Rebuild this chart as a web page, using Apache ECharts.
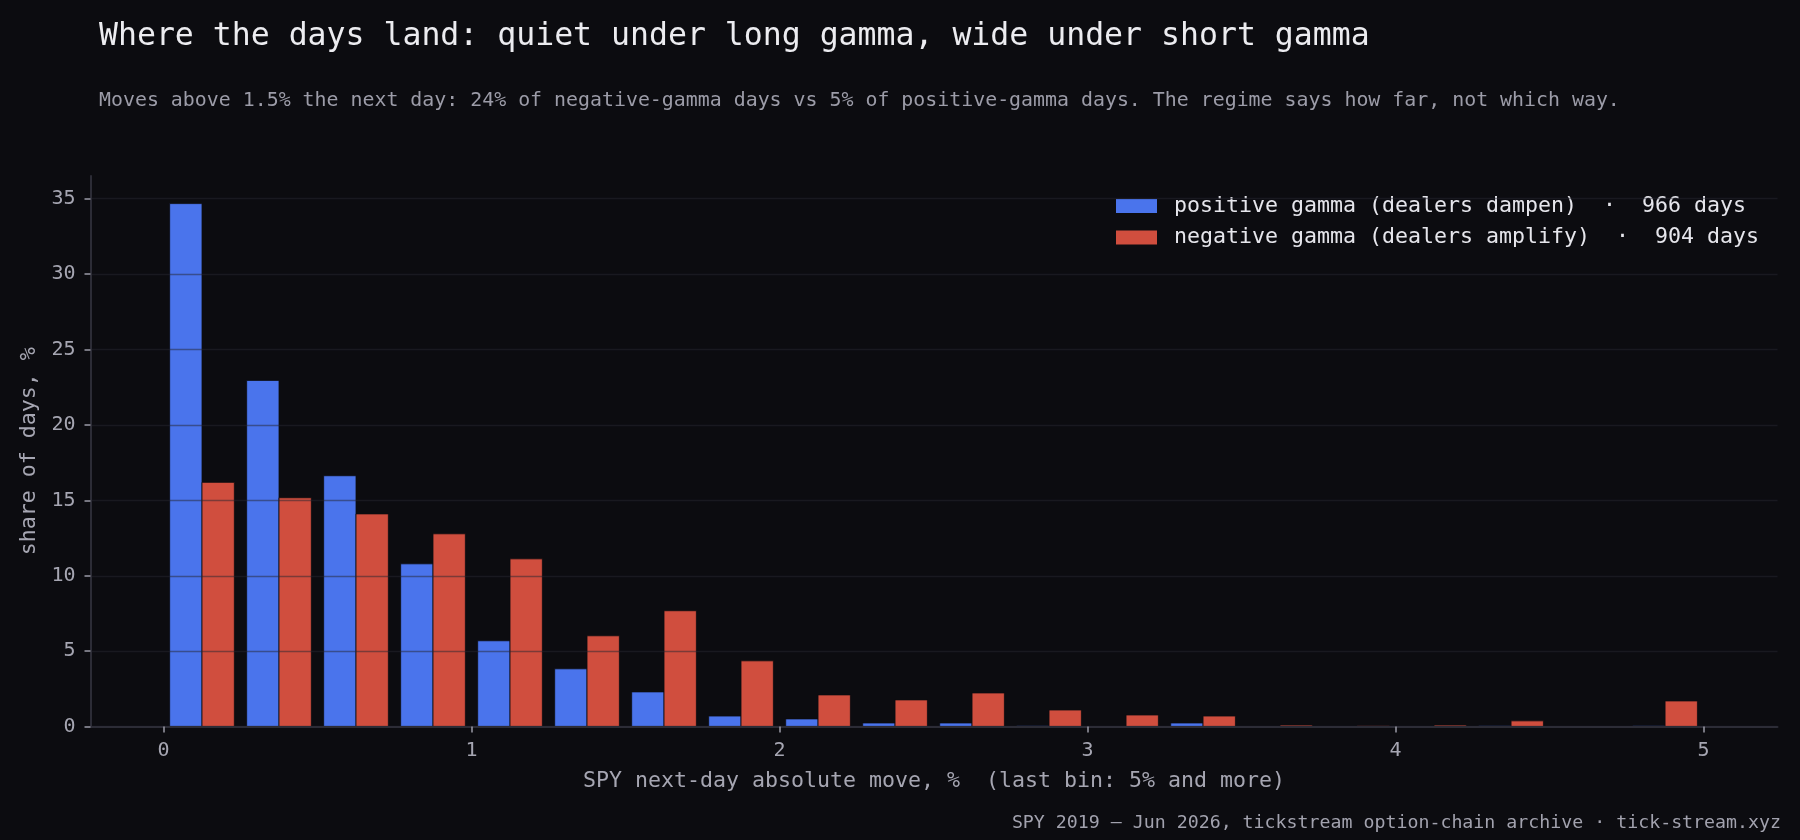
<!DOCTYPE html>
<html><head><meta charset="utf-8">
<script src="https://cdn.jsdelivr.net/npm/echarts@6/dist/echarts.min.js"></script>
<style>html,body{margin:0;padding:0;background:#0c0c10;}#c{width:1800px;height:840px;}</style>
</head><body><div id="c"></div>
<script>
// lower edge of each 0.25%-wide bin (last bin: 5% and more)
const binStarts = [0, 0.25, 0.5, 0.75, 1, 1.25, 1.5, 1.75, 2, 2.25, 2.5, 2.75, 3, 3.25, 3.5, 3.75, 4, 4.25, 4.5, 4.75];
// share of days, % (null = no bar drawn)
const positiveShare = [34.67, 22.95, 16.63, 10.79, 5.69, 3.83, 2.30, 0.70, 0.51, 0.24, 0.24, 0, null, 0.24, null, null, null, 0, null, 0];
const negativeShare = [16.19, 15.17, 14.10, 12.78, 11.12, 6.02, 7.68, 4.36, 2.10, 1.77, 2.23, 1.10, 0.77, 0.70, 0.10, 0, 0.10, 0.38, null, 1.70];
const xTickValues = [0, 1, 2, 3, 4, 5];
const yTickValues = [0, 5, 10, 15, 20, 25, 30, 35];
const seriesNames = ['positive gamma (dealers dampen)  \u00b7  966 days', 'negative gamma (dealers amplify)  \u00b7  904 days'];
const titleText = 'Where the days land: quiet under long gamma, wide under short gamma';
const subtitleText = 'Moves above 1.5% the next day: 24% of negative-gamma days vs 5% of positive-gamma days. The regime says how far, not which way.';
const xAxisTitle = 'SPY next-day absolute move, %  (last bin: 5% and more)';
const yAxisTitle = 'share of days, %';
const footerText = 'SPY 2019 \u2014 Jun 2026, tickstream option-chain archive \u00b7 tick-stream.xyz';

const FONT = '"DejaVu Sans Mono", monospace';
const BG = '#0c0c10';
const BLUE = '#4a74ec';
const RED = '#d04e3e';

function makeRender(offset, width, color) {
  return function (params, api) {
    const x0 = api.value(0) + offset;
    const v = api.value(1);
    const pTop = api.coord([x0, v]);
    const pBot = api.coord([x0 + width, 0]);
    if (v === 0) {
      return { type: 'rect', shape: { x: pTop[0], y: pBot[1] - 1, width: pBot[0] - pTop[0], height: 1 },
               style: { fill: color, opacity: 0.25 } };
    }
    return { type: 'rect', shape: { x: pTop[0], y: pTop[1], width: pBot[0] - pTop[0], height: pBot[1] - pTop[1] },
             style: { fill: color, stroke: BG, lineWidth: 0.8 } };
  };
}
function toData(arr) {
  return binStarts.map((b, i) => [b, arr[i]]).filter(d => d[1] !== null);
}

const chart = echarts.init(document.getElementById('c'), null, { renderer: 'canvas' });
chart.setOption({
  backgroundColor: BG,
  animation: false,
  textStyle: { fontFamily: FONT },
  grid: { left: 90.5, right: 22.5, top: 176, bottom: 113.4, containLabel: false },
  xAxis: {
    type: 'value', min: -0.237, max: 5.24, z: 5,
    name: xAxisTitle, nameLocation: 'middle', nameGap: 44,
    nameTextStyle: { color: '#a6a6b2', fontSize: 21.6, fontFamily: FONT },
    axisLine: { show: true, onZero: false, lineStyle: { color: '#2c2c36', width: 2 } },
    axisTick: { show: true, customValues: xTickValues, length: 6, lineStyle: { color: '#9a9aa6', width: 1.5 } },
    axisLabel: { customValues: xTickValues, color: '#a6a6b2', fontSize: 20, margin: 14, fontFamily: FONT },
    splitLine: { show: false }
  },
  yAxis: {
    type: 'value', min: 0, max: 36.5, interval: 5, z: 5,
    name: yAxisTitle, nameLocation: 'middle', nameGap: 50, nameRotate: 90,
    nameTextStyle: { color: '#a6a6b2', fontSize: 21.6, fontFamily: FONT },
    axisLine: { show: true, onZero: false, lineStyle: { color: '#2c2c36', width: 2 } },
    axisTick: { show: true, customValues: yTickValues, length: 6, lineStyle: { color: '#9a9aa6', width: 1.5 } },
    axisLabel: { customValues: yTickValues, color: '#a6a6b2', fontSize: 20, margin: 15, fontFamily: FONT },
    splitLine: { show: true, lineStyle: { color: 'rgba(38,38,48,0.5)', width: 1.3 } }
  },
  legend: {
    orient: 'vertical', left: 1116, top: 194, itemWidth: 41, itemHeight: 14, itemGap: 7.5,
    icon: 'rect', padding: 0,
    textStyle: { color: '#e6e6ec', fontSize: 21.6, lineHeight: 24, fontFamily: FONT, padding: [0, 0, 0, 12] },
    data: seriesNames
  },
  series: [
    { type: 'custom', name: seriesNames[0], itemStyle: { color: BLUE }, z: 2,
      renderItem: makeRender(0.02, 0.105, BLUE), encode: { x: 0, y: 1 }, data: toData(positiveShare) },
    { type: 'custom', name: seriesNames[1], itemStyle: { color: RED }, z: 2,
      renderItem: makeRender(0.125, 0.105, RED), encode: { x: 0, y: 1 }, data: toData(negativeShare) }
  ],
  graphic: [
    { type: 'text', x: 99, y: 36.5, style: { text: titleText, fill: '#ececf0', font: '31.5px ' + FONT, textVerticalAlign: 'middle' } },
    { type: 'text', x: 99, y: 100.5, style: { text: subtitleText, fill: '#9c9ca8', font: '19.9px ' + FONT, textVerticalAlign: 'middle' } },
    { type: 'text', x: 1781, y: 823, style: { text: footerText, fill: '#a2a2ae', font: '18.25px ' + FONT, textAlign: 'right', textVerticalAlign: 'middle' } }
  ]
});
</script>
</body></html>
